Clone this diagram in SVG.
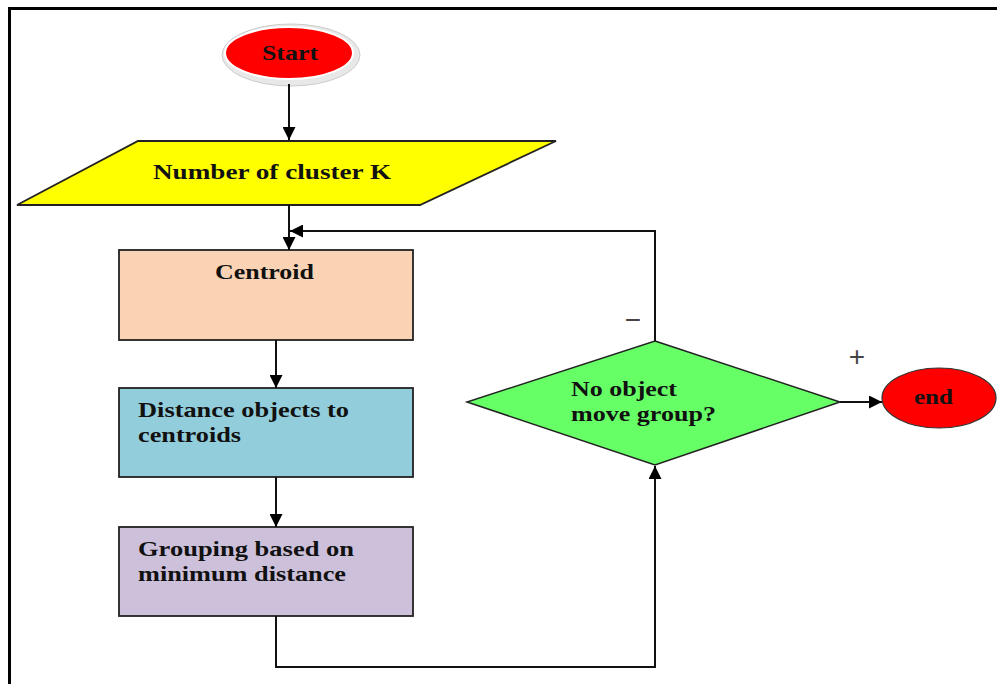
<svg xmlns="http://www.w3.org/2000/svg" width="997" height="684" viewBox="0 0 997 684">
<style>
  .t { font-family: "Liberation Serif", "Times New Roman", serif; font-weight: bold; font-size: 21px; fill: #111; }
  .box { stroke: #222; stroke-width: 1.8; }
  .ln { fill: none; stroke: #111; stroke-width: 2; }
  .sign { font-family: "Liberation Sans", Arial, sans-serif; font-size: 28px; fill: #444; }
</style>
<defs>
  <marker id="ah" viewBox="0 0 10 10" refX="10" refY="5" markerWidth="13" markerHeight="13" markerUnits="userSpaceOnUse" orient="auto">
    <path d="M0,0 L10,5 L0,10 z" fill="#000"/>
  </marker>
</defs>
<rect width="997" height="684" fill="#fff"/>
<g id="frame">
  <path d="M9.5,684 V8.5 H997" fill="none" stroke="#000" stroke-width="3"/>
</g>
<g id="start">
  <ellipse cx="291" cy="55" rx="69" ry="31" fill="#e8e8e8" stroke="#ccc" stroke-width="1"/>
  <ellipse cx="289" cy="53" rx="64" ry="26" fill="#ff0000" stroke="#fff" stroke-width="2"/>
  <text class="t" x="262" y="60" textLength="56" lengthAdjust="spacingAndGlyphs">Start</text>
</g>
<g id="input">
  <polygon class="box" points="17,205 138,141 556,141 420,205" fill="#ffff00"/>
  <text class="t" x="153" y="179" textLength="238" lengthAdjust="spacingAndGlyphs">Number of cluster  K</text>
</g>
<g id="centroid">
  <rect class="box" x="119" y="250" width="294" height="90" fill="#fad3b4"/>
  <text class="t" x="215" y="279" textLength="99" lengthAdjust="spacingAndGlyphs">Centroid</text>
</g>
<g id="distance">
  <rect class="box" x="119" y="388" width="294" height="89" fill="#92cddc"/>
  <text class="t" x="138" y="417" textLength="211" lengthAdjust="spacingAndGlyphs">Distance objects  to</text>
  <text class="t" x="138" y="442" textLength="103" lengthAdjust="spacingAndGlyphs">centroids</text>
</g>
<g id="grouping">
  <rect class="box" x="119" y="527" width="294" height="89" fill="#ccc0da"/>
  <text class="t" x="138" y="556" textLength="216" lengthAdjust="spacingAndGlyphs">Grouping based on</text>
  <text class="t" x="138" y="581" textLength="208" lengthAdjust="spacingAndGlyphs">minimum distance</text>
</g>
<g id="decision">
  <polygon points="655,341 840,402 655,465 467,402" fill="#66ff66" stroke="#222" stroke-width="1.5"/>
  <text class="t" x="571" y="396" textLength="106" lengthAdjust="spacingAndGlyphs">No object</text>
  <text class="t" x="571" y="421" textLength="145" lengthAdjust="spacingAndGlyphs">move group?</text>
</g>
<g id="end">
  <ellipse cx="939" cy="398" rx="57" ry="30" fill="#ff0000" stroke="#333" stroke-width="1.2"/>
  <text class="t" x="914" y="404" textLength="39" lengthAdjust="spacingAndGlyphs">end</text>
</g>
<g id="connectors">
  <line class="ln" x1="289" y1="84" x2="289" y2="140" marker-end="url(#ah)"/>
  <line class="ln" x1="289" y1="205" x2="289" y2="250" marker-end="url(#ah)"/>
  <polyline class="ln" points="655,341 655,231 290,231" marker-end="url(#ah)"/>
  <line class="ln" x1="276" y1="340" x2="276" y2="388" marker-end="url(#ah)"/>
  <line class="ln" x1="276" y1="477" x2="276" y2="527" marker-end="url(#ah)"/>
  <polyline class="ln" points="276,616 276,667 655,667 655,466" marker-end="url(#ah)"/>
  <line class="ln" x1="840" y1="402" x2="882" y2="402" marker-end="url(#ah)"/>
  <text class="sign" x="633" y="329" text-anchor="middle">−</text>
  <text class="sign" x="857" y="366" text-anchor="middle">+</text>
</g>
</svg>
